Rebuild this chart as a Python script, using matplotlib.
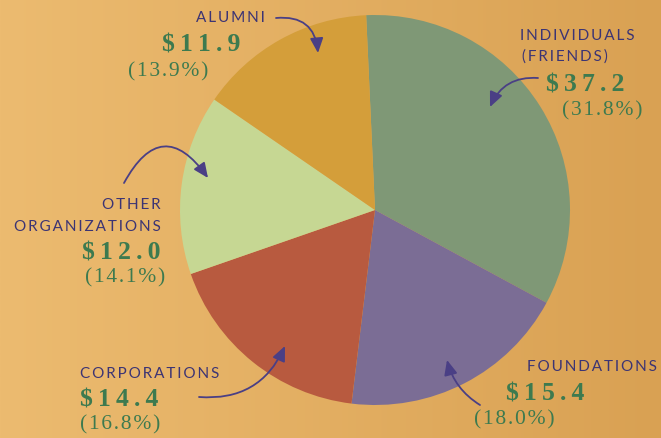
import matplotlib.pyplot as plt
import matplotlib.colors as mcolors
import numpy as np

# Data (in millions) and percentages as printed on the chart
categories = ["INDIVIDUALS\n(FRIENDS)", "FOUNDATIONS", "CORPORATIONS", "OTHER\nORGANIZATIONS", "ALUMNI"]
amounts = [37.2, 15.4, 14.4, 12.0, 11.9]
percents = [31.8, 18.0, 16.8, 14.1, 13.9]
colors = ["#7f9876", "#7b6d95", "#b85a3f", "#c6d793", "#d49e3a"]

W, H = 661, 438
fig = plt.figure(figsize=(W / 100, H / 100), dpi=100)
ax = fig.add_axes([0, 0, 1, 1])

# Background gradient, lighter on the left
bg = mcolors.LinearSegmentedColormap.from_list("bg", ["#ecbb70", "#d9a153"])
grad = np.linspace(0, 1, 256).reshape(1, -1)
ax.imshow(grad, cmap=bg, extent=[0, W, 0, H], aspect="auto", zorder=0)

# Pie, drawn in pixel coordinates (y up)
ax.pie(percents, colors=colors, startangle=92.6, counterclock=False,
       center=(375, H - 210), radius=195, frame=True,
       wedgeprops=dict(linewidth=0))
ax.set_xlim(0, W)
ax.set_ylim(0, H)
ax.set_aspect("equal")
ax.axis("off")

purple = "#3c3474"
green = "#3d7a4f"
lab_font = dict(family=["Lato", "DejaVu Sans"], fontsize=11, color=purple)
num_font = dict(family=["Liberation Serif", "DejaVu Serif"], fontsize=18.5, color=green, fontweight="bold")
pct_font = dict(family=["Liberation Serif", "DejaVu Serif"], fontsize=15.5, color=green)

THIN = "\u2009"
HAIR = "\u200a"


def txt(x, y, s, style, ha="left", sep=THIN):
    # letter spacing like the original typesetting
    ax.text(x, H - y, sep.join(s), ha=ha, va="center", **style)


def arrow(x0, y0, x1, y1, rad):
    ax.annotate("", xy=(x1, H - y1), xytext=(x0, H - y0),
                arrowprops=dict(arrowstyle="-|>,head_length=0.9,head_width=0.4",
                                color="#4a3f85", lw=1.3, shrinkA=0, shrinkB=0,
                                connectionstyle=f"arc3,rad={rad}"))


# Individuals
txt(520, 36, "INDIVIDUALS", lab_font)
txt(522, 57, "(FRIENDS)", lab_font)
txt(546, 85, f"${amounts[0]:.1f}", num_font)
txt(562, 111, f"({percents[0]:.1f}%)", pct_font, sep=HAIR)
arrow(538, 78, 490, 107, 0.35)

# Foundations
txt(527, 367, "FOUNDATIONS", lab_font)
txt(506, 394, f"${amounts[1]:.1f}", num_font)
txt(474, 420, f"({percents[1]:.1f}%)", pct_font, sep=HAIR)
arrow(480, 405, 447, 360, -0.2)

# Corporations
txt(80, 374, "CORPORATIONS", lab_font)
txt(80, 400, f"${amounts[2]:.1f}", num_font)
txt(80, 425, f"({percents[2]:.1f}%)", pct_font, sep=HAIR)
arrow(199, 397, 285, 346, 0.35)

# Other organizations
txt(161, 205, "OTHER", lab_font, ha="right")
txt(161, 227, "ORGANIZATIONS", lab_font, ha="right")
txt(161, 253, f"${amounts[3]:.1f}", num_font, ha="right")
txt(165, 278, f"({percents[3]:.1f}%)", pct_font, ha="right", sep=HAIR)
arrow(124, 183, 208, 178, -0.8)

# Alumni
txt(265, 18, "ALUMNI", lab_font, ha="right")
txt(162, 45, f"${amounts[4]:.1f}", num_font)
txt(128, 72, f"({percents[4]:.1f}%)", pct_font, sep=HAIR)
arrow(276, 18, 318, 53, -0.5)

fig.savefig("out.png", dpi=100)
